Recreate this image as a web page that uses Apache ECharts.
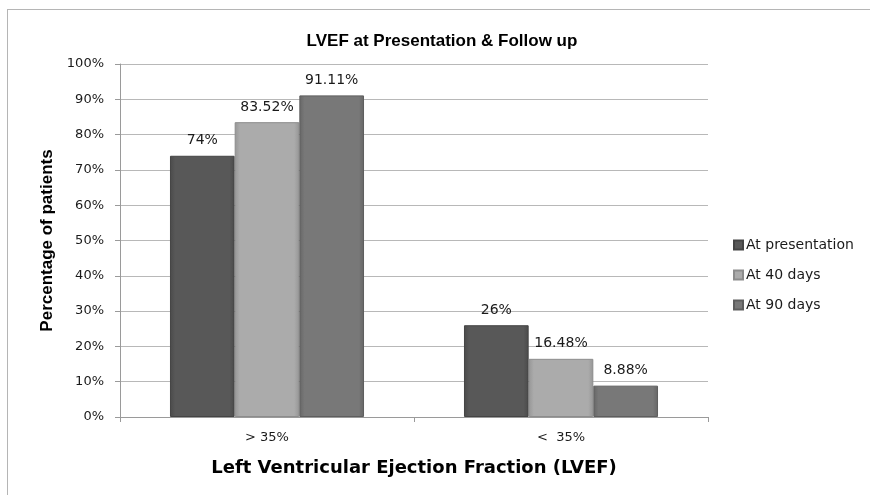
<!DOCTYPE html>
<html>
<head>
<meta charset="utf-8">
<script src="https://cdn.jsdelivr.net/npm/echarts@6/dist/echarts.min.js"></script>
<style>
html,body{margin:0;padding:0;background:#fff;}
#frame{position:absolute;left:7px;top:9px;width:870px;height:490px;border-left:1px solid #b5b5b5;border-top:1px solid #b5b5b5;}
#main{position:absolute;left:0;top:0;width:870px;height:495px;}
</style>
</head>
<body>
<div id="frame"></div>
<div id="main"></div>
<script>
var categories = ['> 35%', '<  35%'];
var seriesNames = ['At presentation', 'At 40 days', 'At 90 days'];
var atPresentation = [74, 26];
var at40Days = [83.52, 16.48];
var at90Days = [91.11, 8.88];
var labelText = [['74%', '26%'], ['83.52%', '16.48%'], ['91.11%', '8.88%']];
var yTicks = [0, 10, 20, 30, 40, 50, 60, 70, 80, 90, 100];

// bevelled grey fill like the excel bars
function barFill(edge, mid) {
    return new echarts.graphic.LinearGradient(0, 0, 1, 0, [
        {offset: 0, color: edge},
        {offset: 0.08, color: mid},
        {offset: 0.92, color: mid},
        {offset: 1, color: edge}
    ]);
}

var fills = [
    barFill('#4a4a4a', '#585858'),
    barFill('#969696', '#ababab'),
    barFill('#666666', '#787878')
];
var borders = ['#444', '#8c8c8c', '#5e5e5e'];
var values = [atPresentation, at40Days, at90Days];

var myChart = echarts.init(document.getElementById('main'));

var series = [];
for (var i = 0; i < values.length; i++) {
    (function (k) {
        series.push({
            name: seriesNames[k],
            type: 'bar',
            data: values[k],
            barGap: '0%',
            barCategoryGap: '34%',
            itemStyle: {
                color: fills[k],
                borderColor: borders[k],
                borderWidth: 1
            },
            label: {
                show: true,
                position: 'top',
                distance: 8,
                color: '#1a1a1a',
                fontFamily: 'DejaVu Sans',
                fontSize: 14,
                formatter: function (p) {
                    return labelText[k][p.dataIndex];
                }
            }
        });
    })(i);
}

myChart.setOption({
    animation: false,
    title: {
        text: 'LVEF at Presentation & Follow up',
        left: 437,
        top: 28,
        textAlign: 'center',
        textStyle: {
            fontFamily: 'Liberation Sans Narrow, Liberation Sans, sans-serif',
            fontWeight: 'bold',
            fontSize: 17,
            color: '#000'
        }
    },
    legend: {
        orient: 'vertical',
        left: 728,
        top: 233,
        itemGap: 16,
        itemWidth: 9,
        itemHeight: 9,
        icon: 'rect',
        textStyle: {
            fontFamily: 'DejaVu Sans',
            fontSize: 14,
            color: '#1a1a1a',
            padding: [0, 0, 0, -2]
        },
        data: seriesNames
    },
    grid: {
        left: 120,
        right: 162,
        top: 64,
        bottom: 78
    },
    xAxis: {
        type: 'category',
        data: categories,
        name: 'Left Ventricular Ejection Fraction (LVEF)',
        nameLocation: 'middle',
        nameGap: 42,
        nameTextStyle: {
            fontFamily: 'DejaVu Sans',
            fontWeight: 'bold',
            fontSize: 18,
            color: '#000'
        },
        axisLine: {lineStyle: {color: '#9a9a9a'}},
        axisTick: {show: true, length: 5, lineStyle: {color: '#9a9a9a'}},
        axisLabel: {
            fontFamily: 'DejaVu Sans',
            fontSize: 13,
            color: '#1a1a1a',
            margin: 14
        }
    },
    yAxis: {
        type: 'value',
        min: yTicks[0],
        max: yTicks[yTicks.length - 1],
        interval: 10,
        name: 'Percentage of patients',
        nameLocation: 'middle',
        nameGap: 64,
        nameTextStyle: {
            fontFamily: 'Liberation Sans, Arial, sans-serif',
            fontWeight: 'bold',
            fontSize: 17,
            color: '#000'
        },
        axisLine: {show: true, lineStyle: {color: '#9a9a9a'}},
        axisTick: {show: true, length: 5, lineStyle: {color: '#9a9a9a'}},
        axisLabel: {
            fontFamily: 'DejaVu Sans',
            fontSize: 13,
            color: '#1a1a1a',
            margin: 16,
            formatter: '{value}%'
        },
        splitLine: {lineStyle: {color: '#b8b8b8'}}
    },
    series: series
});
</script>
</body>
</html>
